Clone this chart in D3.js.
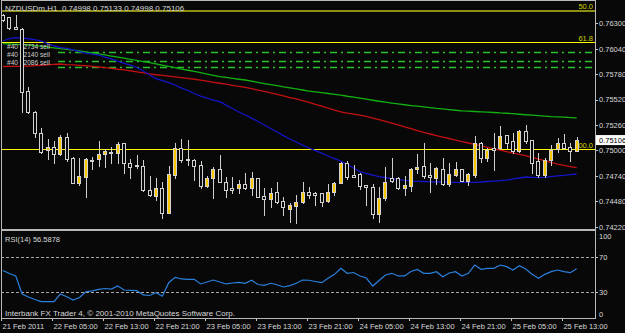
<!DOCTYPE html>
<html>
<head>
<meta charset="utf-8">
<script src="https://cdn.jsdelivr.net/npm/d3@7"></script>
<style>
  html, body { margin: 0; padding: 0; background: #000; }
  svg { display: block; font-family: "Liberation Sans", Arial, sans-serif; }
</style>
</head>
<body>
<div id="app"></div>
<script>
// NZDUSDm H1, first bar 21 Feb 2011 21:00
const symbol = "NZDUSDm,H1";
const firstBar = new Date(2011, 1, 21, 21);

const opens = [
  0.76385, 0.76361, 0.76265, 0.76238, 0.75607, 0.75396, 0.75175, 0.75009, 0.75040, 0.74963,
  0.75140, 0.74919, 0.74670, 0.74725, 0.74907, 0.74909, 0.74963, 0.74987, 0.74970, 0.75073,
  0.74868, 0.74851, 0.74845, 0.74600, 0.74537, 0.74612, 0.74363, 0.74750, 0.75022, 0.74910,
  0.74905, 0.74851, 0.74636, 0.74715, 0.74810, 0.74680, 0.74612, 0.74612, 0.74653, 0.74612,
  0.74715, 0.74534, 0.74506, 0.74570, 0.74480, 0.74401, 0.74431, 0.74472, 0.74572, 0.74561,
  0.74561, 0.74480, 0.74578, 0.74670, 0.74874, 0.74748, 0.74759, 0.74643, 0.74629, 0.74350,
  0.74513, 0.74715, 0.74715, 0.74612, 0.74640, 0.74807, 0.74840, 0.74748, 0.74715, 0.74807,
  0.74656, 0.74748, 0.74807, 0.74690, 0.74748, 0.75079, 0.74925, 0.75022, 0.75022, 0.75154,
  0.75093, 0.74994, 0.75198, 0.75106, 0.74892, 0.74748, 0.74898, 0.75011, 0.75073, 0.75032,
  0.74998
];
const highs = [
  0.76395, 0.76363, 0.76385, 0.76249, 0.75645, 0.75403, 0.75226, 0.75114, 0.75101, 0.75158,
  0.75175, 0.74936, 0.74919, 0.74919, 0.74933, 0.75099, 0.75011, 0.75038, 0.75089, 0.75076,
  0.74917, 0.74953, 0.74902, 0.74738, 0.74721, 0.74680, 0.74840, 0.75073, 0.75114, 0.75106,
  0.74909, 0.74895, 0.74738, 0.74827, 0.74953, 0.74731, 0.74731, 0.74697, 0.74766, 0.74782,
  0.74718, 0.74612, 0.74612, 0.74680, 0.74527, 0.74459, 0.74544, 0.74680, 0.74629, 0.74578,
  0.74565, 0.74656, 0.74680, 0.74884, 0.74895, 0.74851, 0.74766, 0.74646, 0.74656, 0.74623,
  0.74833, 0.74919, 0.74731, 0.74738, 0.74817, 0.74960, 0.75079, 0.74874, 0.74827, 0.74919,
  0.74868, 0.74884, 0.74810, 0.74766, 0.75147, 0.75082, 0.75022, 0.75175, 0.75250, 0.75158,
  0.75181, 0.75209, 0.75260, 0.75110, 0.74970, 0.74919, 0.75055, 0.75124, 0.75165, 0.75073,
  0.75133
];
const lows = [
  0.76323, 0.76241, 0.76238, 0.75396, 0.75379, 0.75140, 0.74970, 0.74909, 0.74868, 0.74953,
  0.74895, 0.74664, 0.74646, 0.74527, 0.74810, 0.74840, 0.74833, 0.74868, 0.74868, 0.74766,
  0.74718, 0.74817, 0.74588, 0.74534, 0.74493, 0.74306, 0.74357, 0.74715, 0.74884, 0.74851,
  0.74697, 0.74612, 0.74629, 0.74510, 0.74678, 0.74527, 0.74561, 0.74561, 0.74610, 0.74544,
  0.74525, 0.74339, 0.74424, 0.74459, 0.74339, 0.74271, 0.74255, 0.74459, 0.74510, 0.74442,
  0.74431, 0.74475, 0.74544, 0.74664, 0.74705, 0.74730, 0.74602, 0.74442, 0.74306, 0.74271,
  0.74493, 0.74680, 0.74602, 0.74544, 0.74588, 0.74766, 0.74715, 0.74578, 0.74656, 0.74646,
  0.74636, 0.74738, 0.74688, 0.74646, 0.74731, 0.74884, 0.74895, 0.74800, 0.75011, 0.75022,
  0.74973, 0.74987, 0.75079, 0.74766, 0.74731, 0.74731, 0.74851, 0.74987, 0.75011, 0.74895,
  0.74998
];
const closes = [
  0.76334, 0.76249, 0.76245, 0.75600, 0.75396, 0.75175, 0.74987, 0.75035, 0.74963, 0.75140,
  0.74909, 0.74670, 0.74738, 0.74909, 0.74892, 0.74960, 0.74994, 0.74970, 0.75062, 0.74868,
  0.74835, 0.74840, 0.74595, 0.74542, 0.74612, 0.74363, 0.74756, 0.75022, 0.74902, 0.74900,
  0.74840, 0.74636, 0.74715, 0.74813, 0.74680, 0.74595, 0.74597, 0.74656, 0.74612, 0.74715,
  0.74527, 0.74506, 0.74567, 0.74475, 0.74418, 0.74442, 0.74475, 0.74572, 0.74544, 0.74547,
  0.74475, 0.74578, 0.74670, 0.74874, 0.74725, 0.74733, 0.74633, 0.74629, 0.74350, 0.74516,
  0.74680, 0.74690, 0.74612, 0.74643, 0.74807, 0.74833, 0.74738, 0.74725, 0.74817, 0.74656,
  0.74756, 0.74807, 0.74690, 0.74756, 0.75073, 0.74925, 0.75004, 0.75004, 0.75147, 0.75079,
  0.74991, 0.75198, 0.75096, 0.74874, 0.74748, 0.74902, 0.75004, 0.75073, 0.75022, 0.74994,
  0.75106
];

// moving averages (blue / red / green), one value per bar
const maBlue = [
  0.76119, 0.76144, 0.76153, 0.76149, 0.76142, 0.76134, 0.76119, 0.76093, 0.76068, 0.76052,
  0.76044, 0.76027, 0.76011, 0.75996, 0.75984, 0.75976, 0.75955, 0.75935, 0.75914, 0.75891,
  0.75873, 0.75848, 0.75812, 0.75771, 0.75735, 0.75715, 0.75694, 0.75669, 0.75638, 0.75613,
  0.75582, 0.75556, 0.75536, 0.75515, 0.75498, 0.75464, 0.75429, 0.75393, 0.75362, 0.75331,
  0.75296, 0.75260, 0.75224, 0.75188, 0.75152, 0.75117, 0.75086, 0.75055, 0.75025, 0.74999,
  0.74973, 0.74943, 0.74917, 0.74892, 0.74856, 0.74820, 0.74784, 0.74764, 0.74748, 0.74733,
  0.74723, 0.74710, 0.74702, 0.74694, 0.74687, 0.74684, 0.74682, 0.74680, 0.74677, 0.74677,
  0.74675, 0.74674, 0.74674, 0.74674, 0.74674, 0.74677, 0.74682, 0.74687, 0.74692, 0.74697,
  0.74708, 0.74718, 0.74728, 0.74725, 0.74721, 0.74725, 0.74733, 0.74740, 0.74745, 0.74753,
  0.74759
];
const maRed = [
  0.75858, 0.75859, 0.75860, 0.75862, 0.75863, 0.75867, 0.75871, 0.75875, 0.75879, 0.75884,
  0.75878, 0.75874, 0.75870, 0.75866, 0.75860, 0.75853, 0.75846, 0.75839, 0.75830, 0.75823,
  0.75813, 0.75803, 0.75793, 0.75782, 0.75774, 0.75767, 0.75759, 0.75752, 0.75745, 0.75736,
  0.75728, 0.75719, 0.75708, 0.75697, 0.75687, 0.75677, 0.75666, 0.75655, 0.75645, 0.75631,
  0.75617, 0.75603, 0.75589, 0.75574, 0.75557, 0.75541, 0.75526, 0.75509, 0.75492, 0.75472,
  0.75452, 0.75433, 0.75413, 0.75395, 0.75382, 0.75371, 0.75360, 0.75349, 0.75331, 0.75314,
  0.75298, 0.75280, 0.75262, 0.75242, 0.75223, 0.75203, 0.75184, 0.75168, 0.75152, 0.75137,
  0.75122, 0.75106, 0.75091, 0.75076, 0.75061, 0.75047, 0.75032, 0.75017, 0.75002, 0.74987,
  0.74973, 0.74960, 0.74946, 0.74928, 0.74911, 0.74895, 0.74876, 0.74859, 0.74847, 0.74835,
  0.74824
];
const maGreen = [
  0.76093, 0.76089, 0.76085, 0.76081, 0.76076, 0.76071, 0.76066, 0.76057, 0.76049, 0.76041,
  0.76034, 0.76026, 0.76018, 0.76007, 0.75998, 0.75988, 0.75977, 0.75965, 0.75954, 0.75944,
  0.75932, 0.75920, 0.75909, 0.75897, 0.75885, 0.75871, 0.75859, 0.75846, 0.75832, 0.75820,
  0.75808, 0.75795, 0.75781, 0.75768, 0.75755, 0.75746, 0.75737, 0.75728, 0.75720, 0.75708,
  0.75696, 0.75684, 0.75673, 0.75662, 0.75650, 0.75640, 0.75629, 0.75618, 0.75607, 0.75599,
  0.75591, 0.75582, 0.75574, 0.75566, 0.75554, 0.75544, 0.75534, 0.75524, 0.75513, 0.75503,
  0.75494, 0.75484, 0.75475, 0.75467, 0.75459, 0.75452, 0.75445, 0.75438, 0.75430, 0.75424,
  0.75417, 0.75411, 0.75405, 0.75402, 0.75398, 0.75395, 0.75392, 0.75388, 0.75383, 0.75380,
  0.75376, 0.75370, 0.75365, 0.75360, 0.75355, 0.75351, 0.75346, 0.75343, 0.75340, 0.75336,
  0.75333
];

// RSI(14)
const rsi = [
  54.7, 51.2, 48.3, 27.3, 23.8, 20.9, 18.4, 18.4, 18.4, 27.3,
  24.2, 20.3, 23.3, 30.0, 31.0, 32.6, 33.7, 33.1, 36.6, 32.0,
  31.6, 31.2, 26.2, 25.6, 28.8, 24.7, 40.5, 46.7, 44.8, 44.4,
  44.4, 39.0, 41.3, 43.6, 41.3, 39.0, 40.1, 40.9, 39.8, 43.3,
  38.4, 37.4, 39.8, 38.1, 35.5, 37.0, 39.8, 43.6, 43.3, 41.9,
  40.5, 45.6, 50.2, 57.2, 51.4, 52.3, 48.3, 45.9, 36.6, 43.0,
  49.4, 51.4, 48.3, 48.3, 53.5, 55.8, 51.4, 51.4, 53.3, 47.4,
  51.7, 53.3, 48.3, 51.4, 61.0, 56.0, 57.2, 57.2, 61.0, 59.1,
  55.2, 60.2, 56.4, 50.2, 45.6, 50.2, 53.3, 55.2, 53.3, 52.1,
  56.5878
];
const rsiLevels = [30, 70];
const rsiTicks = [0, 30, 70, 100];

// fibo levels and open orders
const fiboLabels = ["50.0", "61.8", "100.0"];
const fiboPrices = [0.76436, 0.76105, 0.75011];
const orderLabels = ["#40 92734 sell", "#40 92140 sell", "#40 92086 sell"];
const orderPrices = [0.76006, 0.75919, 0.75858];

const priceTicks = [0.7422, 0.7448, 0.7474, 0.75, 0.7526, 0.7552, 0.7578, 0.7604, 0.763];
const timeTickHours = [0, 8, 16, 24, 32, 40, 48, 56, 64, 72, 80, 88];

const copyright = "Interbank FX Trader 4, \u00a9 2001-2010 MetaQuotes Software Corp.";

class MtChart {
  constructor(app_id = "app") {
    this.width = 625;
    this.height = 333;
    this.app_id = app_id;
    this.left = 1;
    this.right = 595;
    this.mainTop = 1;
    this.mainBottom = 229;
    this.rsiTop = 231;
    this.rsiBottom = 318;
    this.init();
  }

  init() {
    this.svg = d3
      .select(`#${this.app_id}`)
      .append("svg")
      .attr("width", this.width)
      .attr("height", this.height);

    this.svg.append("rect").attr("width", this.width).attr("height", this.height).attr("fill", "#080808");

    this.bars = opens.map((o, i) => ({
      time: d3.timeHour.offset(firstBar, i),
      open: o,
      high: highs[i],
      low: lows[i],
      close: closes[i],
    }));

    this.x = d3
      .scaleTime()
      .domain([firstBar, d3.timeHour.offset(firstBar, opens.length - 1)])
      .range([3, 576.7]);
    this.y = d3.scaleLinear().domain([0.7422, 0.763]).range([226.7, 23.3]);
    this.yRsi = d3.scaleLinear().domain([0, 100]).range([317.5, 231.5]);

    this.svg
      .append("clipPath")
      .attr("id", "clipMain")
      .append("rect")
      .attr("x", this.left)
      .attr("y", this.mainTop)
      .attr("width", this.right - this.left)
      .attr("height", this.mainBottom - this.mainTop);

    this.drawMain();
    this.drawRsi();
    this.drawAxes();
    this.drawFrames();
  }

  drawMain() {
    const x = this.x, y = this.y;
    const g = this.svg.append("g").attr("clip-path", "url(#clipMain)");

    // fibo lines
    const fiboColors = ["#8e8e12", "#ffff00", "#ffff00"];
    fiboPrices.forEach((p, k) => {
      const yy = Math.round(y(p)) + 0.5;
      g.append("line")
        .attr("x1", this.left).attr("x2", this.right)
        .attr("y1", yy).attr("y2", yy)
        .attr("stroke", fiboColors[k])
        .attr("stroke-width", k === 0 ? 2 : 1)
        .attr("shape-rendering", "crispEdges");
      g.append("text")
        .attr("x", 593).attr("y", yy - 2)
        .attr("text-anchor", "end")
        .attr("font-size", 7.5)
        .attr("fill", "#d4d400")
        .text(fiboLabels[k]);
    });

    // order lines (dash-dot)
    orderPrices.forEach((p) => {
      const yy = Math.round(y(p)) + 0.5;
      g.append("line")
        .attr("x1", 58).attr("x2", this.right - 3)
        .attr("y1", yy).attr("y2", yy)
        .attr("stroke", "#2cc02c")
        .attr("stroke-width", 1.5)
        .attr("stroke-dasharray", "7,4,2,4");
    });

    // moving averages
    const line = d3.line().x((d, i) => x(this.bars[i].time)).y((d) => y(d));
    [[maGreen, "#12b012"], [maRed, "#c41010"], [maBlue, "#1414c8"]].forEach(([s, c]) => {
      g.append("path")
        .attr("d", line(s))
        .attr("fill", "none")
        .attr("stroke", c)
        .attr("stroke-width", 1.3);
    });

    // order labels, kept a little apart so they do not run into each other
    const labelBase = [49, 57, 65];
    orderPrices.forEach((p, k) => {
      g.append("text")
        .attr("x", 7).attr("y", labelBase[k])
        .attr("font-size", 6.6)
        .attr("fill", "#cfcfcf")
        .text(orderLabels[k]);
    });

    // candles
    const candle = g
      .selectAll(".candle")
      .data(this.bars)
      .enter()
      .append("g")
      .attr("class", "candle")
      .attr("shape-rendering", "crispEdges");

    candle
      .append("line")
      .attr("x1", (d) => Math.round(x(d.time)) + 0.5)
      .attr("x2", (d) => Math.round(x(d.time)) + 0.5)
      .attr("y1", (d) => Math.round(y(d.high)))
      .attr("y2", (d) => Math.round(y(d.low)) + 1)
      .attr("stroke", "#cfcfcf");

    candle
      .append("rect")
      .attr("x", (d) => Math.round(x(d.time)) - 1.5)
      .attr("y", (d) => Math.round(y(Math.max(d.open, d.close))) + 0.5)
      .attr("width", 3)
      .attr("height", (d) =>
        Math.max(1, Math.round(y(Math.min(d.open, d.close))) - Math.round(y(Math.max(d.open, d.close))))
      )
      .attr("fill", (d) => (d.close > d.open ? "#f7c600" : "#080808"))
      .attr("stroke", "#d2d2d2");

    // header
    const last = this.bars[this.bars.length - 1];
    const f5 = d3.format(".5f");
    this.svg
      .append("text")
      .attr("x", 5).attr("y", 11)
      .attr("font-size", 8)
      .attr("fill", "#d8d8d8")
      .attr("xml:space", "preserve")
      .text(`${symbol}  ${f5(last.open)} ${f5(last.high)} ${f5(last.low)} ${f5(last.close)}`);
  }

  drawRsi() {
    const x = this.x, yR = this.yRsi;
    const g = this.svg.append("g");

    rsiLevels.forEach((v) => {
      g.append("line")
        .attr("x1", this.left).attr("x2", this.right)
        .attr("y1", Math.round(yR(v)) + 0.5).attr("y2", Math.round(yR(v)) + 0.5)
        .attr("stroke", "#a8a8a8")
        .attr("stroke-dasharray", "3,2");
    });

    g.append("path")
      .attr("d", d3.line().x((d, i) => x(this.bars[i].time)).y((d) => yR(d))(rsi))
      .attr("fill", "none")
      .attr("stroke", "#2a80dc")
      .attr("stroke-width", 1.2);

    g.append("text")
      .attr("x", 5).attr("y", 242)
      .attr("font-size", 7.5)
      .attr("fill", "#d8d8d8")
      .text(`RSI(14) ${rsi[rsi.length - 1].toFixed(4)}`);

    g.append("text")
      .attr("x", 5).attr("y", 315.5)
      .attr("font-size", 8)
      .attr("fill", "#d8d8d8")
      .text(copyright);
  }

  drawAxes() {
    const f5 = d3.format(".5f");

    // price axis
    const pAxis = this.svg
      .append("g")
      .attr("transform", `translate(${this.right},0)`)
      .call(d3.axisRight(this.y).tickValues(priceTicks).tickSize(3).tickPadding(1).tickFormat(f5));
    this.styleAxis(pAxis);

    // current price box
    const lastClose = closes[closes.length - 1];
    const yc = this.y(lastClose);
    this.svg.append("rect")
      .attr("x", 596).attr("y", yc - 5).attr("width", 29).attr("height", 10)
      .attr("fill", "#ffffff");
    this.svg.append("text")
      .attr("x", 599).attr("y", yc + 2.7)
      .attr("font-size", 7.5)
      .attr("fill", "#000")
      .text(f5(lastClose));

    // rsi axis
    const rAxis = this.svg
      .append("g")
      .attr("transform", `translate(${this.right},0)`)
      .call(d3.axisRight(this.yRsi).tickValues(rsiTicks).tickSize(3).tickPadding(1));
    this.styleAxis(rAxis);
    rAxis.selectAll(".tick").filter((d) => d === 0 || d === 100).select("line").remove();
    rAxis.selectAll(".tick").filter((d) => d === 100).select("text").attr("dy", "0.9em");
    rAxis.selectAll(".tick").filter((d) => d === 0).select("text").attr("dy", "-0.2em");

    // time axis
    const fmt = d3.timeFormat("%d %b %H:%M");
    const tAxis = this.svg
      .append("g")
      .attr("transform", `translate(-2,${this.rsiBottom})`)
      .call(
        d3.axisBottom(this.x)
          .tickValues(timeTickHours.map((h) => d3.timeHour.offset(firstBar, h)))
          .tickSize(3)
          .tickPadding(3)
          .tickFormat((d, i) => (i === 0 ? "21 Feb 2011" : fmt(d)))
      );
    this.styleAxis(tAxis);
    tAxis.selectAll("text").attr("text-anchor", "start").attr("x", 1);
  }

  styleAxis(axis) {
    axis.select(".domain").remove();
    axis.selectAll("line").attr("stroke", "#c8c8c8").attr("shape-rendering", "crispEdges");
    axis.selectAll("text")
      .attr("fill", "#d8d8d8")
      .attr("font-size", 7.5)
      .attr("font-family", "Liberation Sans, Arial, sans-serif");
  }

  drawFrames() {
    const frame = (y0, y1) =>
      this.svg.append("rect")
        .attr("x", this.left + 0.5).attr("y", y0 + 0.5)
        .attr("width", this.right - this.left).attr("height", y1 - y0)
        .attr("fill", "none")
        .attr("stroke", "#b8b8b8")
        .attr("shape-rendering", "crispEdges");
    frame(this.mainTop - 1, this.mainBottom);
    frame(this.rsiTop - 1, this.rsiBottom);
  }
}

new MtChart("app");
</script>
</body>
</html>
